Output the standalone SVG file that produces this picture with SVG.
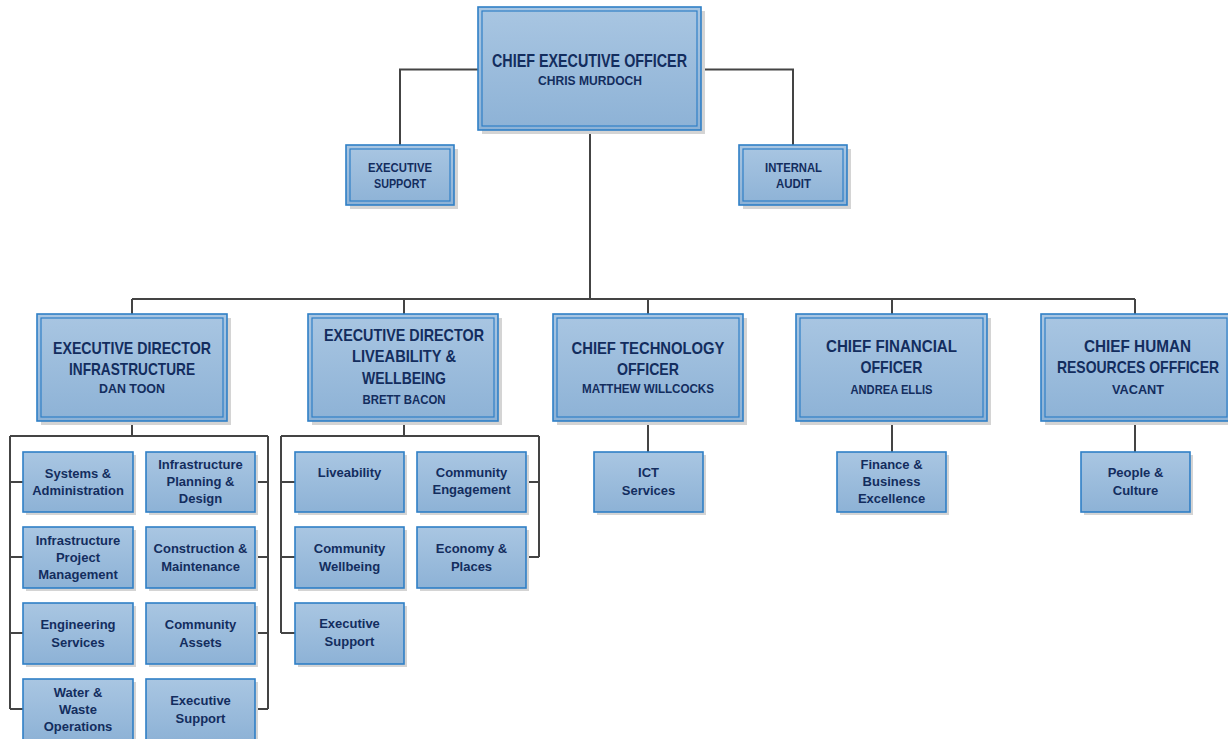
<svg xmlns="http://www.w3.org/2000/svg" width="1228" height="739" viewBox="0 0 1228 739">
<defs>
<linearGradient id="g" x1="0" y1="0" x2="0" y2="1">
<stop offset="0" stop-color="#a9c6e2"/>
<stop offset="1" stop-color="#8db2d6"/>
</linearGradient>
</defs>
<style>
.sh{fill:#d4d4d4;}
.bx{fill:url(#g);stroke:#2f7fc6;stroke-width:1.6;}
.in{fill:none;stroke:#2f7fc6;stroke-width:1.2;}
.c{fill:none;stroke:#444;stroke-width:2;}
text{font-family:"Liberation Sans",Arial,sans-serif;font-weight:bold;fill:#132d5e;text-anchor:middle;}
.h{font-size:17px;}
.h1{font-size:18.5px;}
.n{font-size:13px;}
.s{font-size:13px;}
</style>
<rect width="1228" height="739" fill="#ffffff"/>
<g id="connectors">
<path class="c" d="M478 69.5H400V146"/>
<path class="c" d="M701 69.5H793V146"/>
<path class="c" d="M590 130V299"/>
<path class="c" d="M132 299H1135"/>
<path class="c" d="M132 299V314M404 299V314M648 299V314M892 299V314M1135 299V314"/>
<path class="c" d="M132 421V436M10 436H268M10 436V709M268 436V709"/>
<path class="c" d="M10 482H23M10 557H23M10 633H23M10 709H23M255 482H268M255 557H268M255 633H268M255 709H268"/>
<path class="c" d="M404 421V436M281 436H539M281 436V633M539 436V557"/>
<path class="c" d="M281 482H295M281 557H295M281 633H295M526 482H539M526 557H539"/>
<path class="c" d="M648 421V452M892 421V452M1135 421V452"/>
</g>
<g id="ceo">
<rect class="sh" x="482" y="11" width="223" height="123"/>
<rect class="bx" x="478" y="7" width="223" height="123"/>
<rect class="in" x="482" y="11" width="215" height="115"/>
<text class="h1" x="589.5" y="67" textLength="195" lengthAdjust="spacingAndGlyphs">CHIEF EXECUTIVE OFFICER</text>
<text class="n" x="590" y="85" textLength="104" lengthAdjust="spacingAndGlyphs">CHRIS MURDOCH</text>
</g>
<g id="executive-support">
<rect class="sh" x="350" y="149" width="108" height="60"/>
<rect class="bx" x="346" y="145" width="108" height="60"/>
<rect class="in" x="350" y="149" width="100" height="52"/>
<text class="n" x="400" y="172" textLength="64" lengthAdjust="spacingAndGlyphs">EXECUTIVE</text>
<text class="n" x="400" y="188" textLength="52" lengthAdjust="spacingAndGlyphs">SUPPORT</text>
</g>
<g id="internal-audit">
<rect class="sh" x="743" y="149" width="108" height="60"/>
<rect class="bx" x="739" y="145" width="108" height="60"/>
<rect class="in" x="743" y="149" width="100" height="52"/>
<text class="n" x="793.5" y="172" textLength="57" lengthAdjust="spacingAndGlyphs">INTERNAL</text>
<text class="n" x="793.5" y="188" textLength="35" lengthAdjust="spacingAndGlyphs">AUDIT</text>
</g>
<g id="ed-infrastructure">
<rect class="sh" x="41" y="318" width="190" height="107"/>
<rect class="bx" x="37" y="314" width="190" height="107"/>
<rect class="in" x="41" y="318" width="182" height="99"/>
<text class="h" x="132" y="354" textLength="158" lengthAdjust="spacingAndGlyphs">EXECUTIVE DIRECTOR</text>
<text class="h" x="132" y="375" textLength="126" lengthAdjust="spacingAndGlyphs">INFRASTRUCTURE</text>
<text class="n" x="132" y="393" textLength="66" lengthAdjust="spacingAndGlyphs">DAN TOON</text>
</g>
<g id="ed-liveability">
<rect class="sh" x="312" y="318" width="190" height="107"/>
<rect class="bx" x="308" y="314" width="190" height="107"/>
<rect class="in" x="312" y="318" width="182" height="99"/>
<text class="h" x="404" y="341" textLength="160" lengthAdjust="spacingAndGlyphs">EXECUTIVE DIRECTOR</text>
<text class="h" x="404" y="362" textLength="104" lengthAdjust="spacingAndGlyphs">LIVEABILITY &amp;</text>
<text class="h" x="404" y="384" textLength="84" lengthAdjust="spacingAndGlyphs">WELLBEING</text>
<text class="n" x="404" y="404" textLength="83" lengthAdjust="spacingAndGlyphs">BRETT BACON</text>
</g>
<g id="cto">
<rect class="sh" x="557" y="318" width="190" height="107"/>
<rect class="bx" x="553" y="314" width="190" height="107"/>
<rect class="in" x="557" y="318" width="182" height="99"/>
<text class="h" x="648" y="354" textLength="153" lengthAdjust="spacingAndGlyphs">CHIEF TECHNOLOGY</text>
<text class="h" x="648" y="375" textLength="62" lengthAdjust="spacingAndGlyphs">OFFICER</text>
<text class="n" x="648" y="393" textLength="132" lengthAdjust="spacingAndGlyphs">MATTHEW WILLCOCKS</text>
</g>
<g id="cfo">
<rect class="sh" x="800" y="318" width="191" height="107"/>
<rect class="bx" x="796" y="314" width="191" height="107"/>
<rect class="in" x="800" y="318" width="183" height="99"/>
<text class="h" x="891.5" y="352" textLength="131" lengthAdjust="spacingAndGlyphs">CHIEF FINANCIAL</text>
<text class="h" x="891.5" y="373" textLength="62" lengthAdjust="spacingAndGlyphs">OFFICER</text>
<text class="n" x="891.5" y="394" textLength="82" lengthAdjust="spacingAndGlyphs">ANDREA ELLIS</text>
</g>
<g id="chro">
<rect class="sh" x="1045" y="318" width="190" height="107"/>
<rect class="bx" x="1041" y="314" width="190" height="107"/>
<rect class="in" x="1045" y="318" width="182" height="99"/>
<text class="h" x="1137.5" y="352" textLength="107" lengthAdjust="spacingAndGlyphs">CHIEF HUMAN</text>
<text class="h" x="0" y="0" transform="translate(1138 373) scale(0.822 1)">RESOURCES OFFFICER</text>
<text class="n" x="1138" y="394" textLength="52" lengthAdjust="spacingAndGlyphs">VACANT</text>
</g>
<g id="systems-administration">
<rect class="sh" x="26" y="455" width="110" height="60"/>
<rect class="bx" x="23" y="452" width="110" height="60"/>
<text class="s" x="78" y="478">Systems &amp;</text>
<text class="s" x="78" y="495">Administration</text>
</g>
<g id="infrastructure-planning-design">
<rect class="sh" x="149" y="455" width="109" height="60"/>
<rect class="bx" x="146" y="452" width="109" height="60"/>
<text class="s" x="200.5" y="469">Infrastructure</text>
<text class="s" x="200.5" y="486">Planning &amp;</text>
<text class="s" x="200.5" y="503">Design</text>
</g>
<g id="infrastructure-project-management">
<rect class="sh" x="26" y="530" width="110" height="61"/>
<rect class="bx" x="23" y="527" width="110" height="61"/>
<text class="s" x="78" y="545">Infrastructure</text>
<text class="s" x="78" y="562">Project</text>
<text class="s" x="78" y="579">Management</text>
</g>
<g id="construction-maintenance">
<rect class="sh" x="149" y="530" width="109" height="61"/>
<rect class="bx" x="146" y="527" width="109" height="61"/>
<text class="s" x="200.5" y="553">Construction &amp;</text>
<text class="s" x="200.5" y="571">Maintenance</text>
</g>
<g id="engineering-services">
<rect class="sh" x="26" y="606" width="110" height="61"/>
<rect class="bx" x="23" y="603" width="110" height="61"/>
<text class="s" x="78" y="629">Engineering</text>
<text class="s" x="78" y="647">Services</text>
</g>
<g id="community-assets">
<rect class="sh" x="149" y="606" width="109" height="61"/>
<rect class="bx" x="146" y="603" width="109" height="61"/>
<text class="s" x="200.5" y="629">Community</text>
<text class="s" x="200.5" y="647">Assets</text>
</g>
<g id="water-waste-operations">
<rect class="sh" x="26" y="682" width="110" height="62"/>
<rect class="bx" x="23" y="679" width="110" height="62"/>
<text class="s" x="78" y="697">Water &amp;</text>
<text class="s" x="78" y="714">Waste</text>
<text class="s" x="78" y="731">Operations</text>
</g>
<g id="infrastructure-executive-support">
<rect class="sh" x="149" y="682" width="109" height="62"/>
<rect class="bx" x="146" y="679" width="109" height="62"/>
<text class="s" x="200.5" y="705">Executive</text>
<text class="s" x="200.5" y="723">Support</text>
</g>
<g id="liveability">
<rect class="sh" x="298" y="455" width="109" height="60"/>
<rect class="bx" x="295" y="452" width="109" height="60"/>
<text class="s" x="349.5" y="477">Liveability</text>
</g>
<g id="community-engagement">
<rect class="sh" x="420" y="455" width="109" height="60"/>
<rect class="bx" x="417" y="452" width="109" height="60"/>
<text class="s" x="471.5" y="477">Community</text>
<text class="s" x="471.5" y="494">Engagement</text>
</g>
<g id="community-wellbeing">
<rect class="sh" x="298" y="530" width="109" height="61"/>
<rect class="bx" x="295" y="527" width="109" height="61"/>
<text class="s" x="349.5" y="553">Community</text>
<text class="s" x="349.5" y="571">Wellbeing</text>
</g>
<g id="economy-places">
<rect class="sh" x="420" y="530" width="109" height="61"/>
<rect class="bx" x="417" y="527" width="109" height="61"/>
<text class="s" x="471.5" y="553">Economy &amp;</text>
<text class="s" x="471.5" y="571">Places</text>
</g>
<g id="liveability-executive-support">
<rect class="sh" x="298" y="606" width="109" height="61"/>
<rect class="bx" x="295" y="603" width="109" height="61"/>
<text class="s" x="349.5" y="628">Executive</text>
<text class="s" x="349.5" y="646">Support</text>
</g>
<g id="ict-services">
<rect class="sh" x="597" y="455" width="109" height="60"/>
<rect class="bx" x="594" y="452" width="109" height="60"/>
<text class="s" x="648.5" y="477">ICT</text>
<text class="s" x="648.5" y="495">Services</text>
</g>
<g id="finance-business-excellence">
<rect class="sh" x="840" y="455" width="109" height="60"/>
<rect class="bx" x="837" y="452" width="109" height="60"/>
<text class="s" x="891.5" y="469">Finance &amp;</text>
<text class="s" x="891.5" y="486">Business</text>
<text class="s" x="891.5" y="503">Excellence</text>
</g>
<g id="people-culture">
<rect class="sh" x="1084" y="455" width="109" height="60"/>
<rect class="bx" x="1081" y="452" width="109" height="60"/>
<text class="s" x="1135.5" y="477">People &amp;</text>
<text class="s" x="1135.5" y="495">Culture</text>
</g>
</svg>
